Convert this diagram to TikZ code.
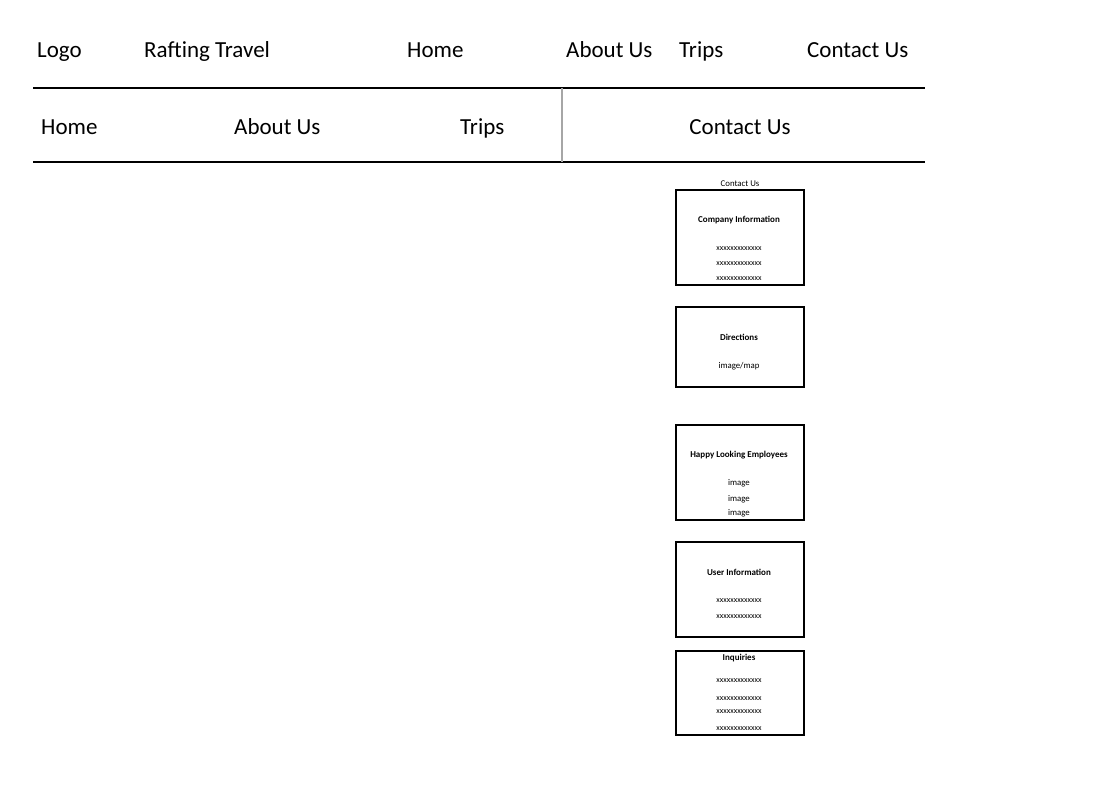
\documentclass[tikz,border=0pt]{standalone}
\usepackage{fontspec}
\setmainfont{Carlito}
\begin{document}
\begin{tikzpicture}[x=1pt,y=-1pt,
  navtext/.style={inner sep=0pt,anchor=base west,font=\fontsize{23}{26}\selectfont},
  smalltext/.style={inner sep=0pt,anchor=base,font=\fontsize{8.8}{10}\selectfont},
  titletext/.style={inner sep=0pt,anchor=base,font=\fontsize{9}{10}\selectfont\bfseries},
  xtext/.style={inner sep=0pt,anchor=base,font=\fontsize{8}{9}\selectfont},
  panel/.style={draw=black,line width=1.5pt,minimum width=128pt,inner sep=0pt,anchor=north west},
  rule/.style={line width=1.4pt,black}]
\useasboundingbox (0,0) rectangle (1115,788);
% header row
\node[navtext] (logo) at (37,57.5) {Logo};
\node[navtext] (brand) at (144,57.5) {Rafting Travel};
\node[navtext] (home1) at (407,57.5) {Home};
\node[navtext] (about1) at (566,57.5) {About Us};
\node[navtext] (trips1) at (679,57.5) {Trips};
\node[navtext] (contact1) at (807,57.5) {Contact Us};
% rules
\coordinate (r1l) at (33,88);
\coordinate (r1r) at (925,88);
\coordinate (r2l) at (33,162);
\coordinate (r2r) at (925,162);
\coordinate (vt) at (562,88);
\coordinate (vb) at (562,162);
\draw[rule] (r1l) -- (r1r);
\draw[rule] (r2l) -- (r2r);
\draw[line width=1.2pt,black!35] (vt) -- (vb);
% second row
\node[navtext] (home2) at (41,134.5) {Home};
\node[navtext] (about2) at (234,134.5) {About Us};
\node[navtext] (trips2) at (460,134.5) {Trips};
\node[navtext,anchor=base] (contact2) at (740,134.5) {Contact Us};
% contact panel
\node[smalltext] (cu) at (740,186) {Contact Us};
\node[panel,minimum height=95pt] (b1) at (675,189) {};
\node[titletext] (t1) at (739,222) {Company Information};
\node[xtext] (x11) at (739,250.5) {xxxxxxxxxxxxx};
\node[xtext] (x12) at (739,265.5) {xxxxxxxxxxxxx};
\node[xtext] (x13) at (739,280.5) {xxxxxxxxxxxxx};
\node[panel,minimum height=80pt] (b2) at (675,306) {};
\node[titletext] (t2) at (739,340) {Directions};
\node[smalltext] (m2) at (739,368) {image/map};
\node[panel,minimum height=95pt] (b3) at (675,424) {};
\node[titletext] (t3) at (739,457) {Happy Looking Employees};
\node[smalltext] (i31) at (739,485) {image};
\node[smalltext] (i32) at (739,501) {image};
\node[smalltext] (i33) at (739,515) {image};
\node[panel,minimum height=95pt] (b4) at (675,541) {};
\node[titletext] (t4) at (739,575) {User Information};
\node[xtext] (x41) at (739,602.5) {xxxxxxxxxxxxx};
\node[xtext] (x42) at (739,618.5) {xxxxxxxxxxxxx};
\node[panel,minimum height=84pt] (b5) at (675,650) {};
\node[titletext] (t5) at (739,660) {Inquiries};
\node[xtext] (x51) at (739,682.5) {xxxxxxxxxxxxx};
\node[xtext] (x52) at (739,700.5) {xxxxxxxxxxxxx};
\node[xtext] (x53) at (739,713.5) {xxxxxxxxxxxxx};
\node[xtext] (x54) at (739,730.5) {xxxxxxxxxxxxx};
\end{tikzpicture}
\end{document}
